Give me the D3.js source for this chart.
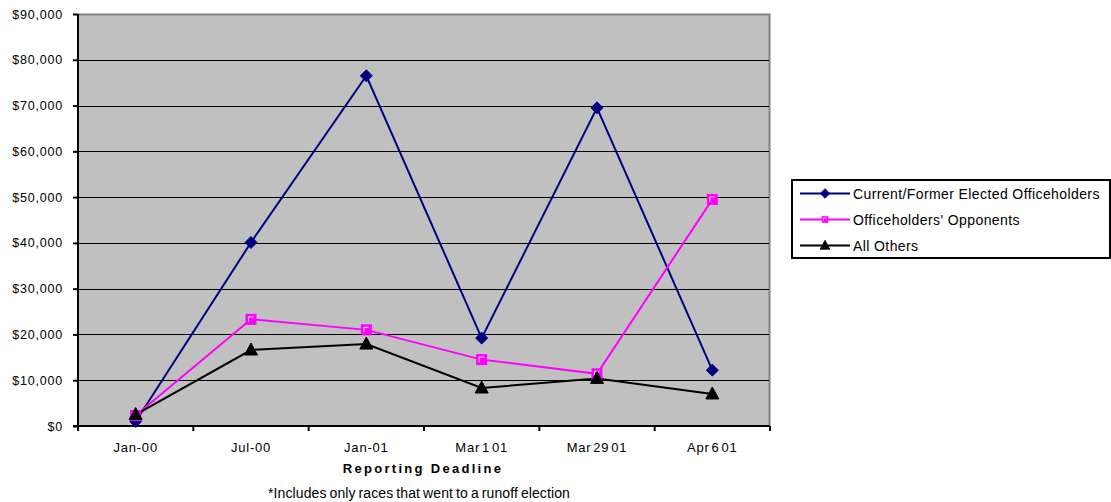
<!DOCTYPE html>
<html>
<head>
<meta charset="utf-8">
<script src="https://cdn.jsdelivr.net/npm/d3@7"></script>
<style>
  html, body { margin: 0; padding: 0; background: #fff; }
  svg text { font-family: Arial, "Liberation Sans", sans-serif; fill: #000; }
</style>
</head>
<body>
<svg id="chart" width="1111" height="502"></svg>
<script>
// Reporting deadlines (x categories)
const categories = ["Jan-00", "Jul-00", "Jan-01", "Mar 1 01", "Mar 29 01", "Apr 6 01"];

// Contributions by candidate group, in dollars
const officeholders = [1000, 40100, 76500, 19200, 69500, 12200];
const opponents     = [2300, 23300, 21000, 14500, 11400, 49500];
const allOthers     = [2500, 16600, 17900, 8300, 10400, 7000];

const seriesNames = [
  "Current/Former Elected Officeholders",
  "Officeholders' Opponents",
  "All Others"
];

const yTicks = [0, 10000, 20000, 30000, 40000, 50000, 60000, 70000, 80000, 90000];

const series = [
  { name: seriesNames[0], values: officeholders, color: "#000080", marker: "diamond" },
  { name: seriesNames[1], values: opponents,     color: "#ff00ff", marker: "square" },
  { name: seriesNames[2], values: allOthers,     color: "#000000", marker: "triangle" }
];

const svg = d3.select("#chart");
const plot = { left: 78, right: 770, top: 14, bottom: 426 };

const x = d3.scaleBand().domain(categories).range([plot.left, plot.right]);
const y = d3.scaleLinear().domain([0, 90000]).range([plot.bottom, plot.top]);

// Plot background
svg.append("rect")
  .attr("x", plot.left).attr("y", plot.top)
  .attr("width", plot.right - plot.left).attr("height", plot.bottom - plot.top)
  .attr("fill", "#c0c0c0");

// Top and right frame edges
svg.append("path")
  .attr("d", `M${plot.left},${plot.top + 0.5}H${plot.right - 0.5}V${plot.bottom}`)
  .attr("fill", "none").attr("stroke", "#808080").attr("stroke-width", 2);

// Horizontal gridlines
svg.append("g").selectAll("line")
  .data(yTicks.filter(d => d > 0 && d < 90000))
  .join("line")
  .attr("x1", plot.left).attr("x2", plot.right - 1)
  .attr("y1", d => Math.round(y(d)) + 0.5).attr("y2", d => Math.round(y(d)) + 0.5)
  .attr("stroke", "#000").attr("stroke-width", 1);

// Y axis
const yAxis = d3.axisLeft(y)
  .tickValues(yTicks)
  .tickFormat(d => "$" + d3.format(",")(d))
  .tickSize(5)
  .tickPadding(10);
const gy = svg.append("g").attr("transform", `translate(${plot.left},0)`).call(yAxis);
gy.select(".domain").attr("stroke", "#000").attr("stroke-width", 2)
  .attr("d", `M0,${plot.top}V${plot.bottom + 1}`);
gy.selectAll(".tick line").attr("stroke", "#000").attr("stroke-width", 2);
gy.selectAll(".tick text")
  .attr("font-size", 12.5).attr("letter-spacing", "0.8px")
  .style("font-family", "Arial, 'Liberation Sans', sans-serif");

// X axis: ticks at category boundaries, labels centered in bands
const gx = svg.append("g").attr("transform", `translate(0,${plot.bottom})`);
gx.append("line")
  .attr("x1", plot.left - 5).attr("x2", plot.right)
  .attr("y1", 0).attr("y2", 0)
  .attr("stroke", "#000").attr("stroke-width", 2);
const boundaries = categories.map(c => x(c)).concat([x(categories[categories.length - 1]) + x.bandwidth()]);
gx.selectAll("line.tk").data(boundaries).join("line").attr("class", "tk")
  .attr("x1", d => d).attr("x2", d => d)
  .attr("y1", 0).attr("y2", 5)
  .attr("stroke", "#000").attr("stroke-width", 2);
gx.selectAll("text.lbl").data(categories).join("text").attr("class", "lbl")
  .attr("x", d => x(d) + x.bandwidth() / 2)
  .attr("y", 25.5)
  .attr("text-anchor", "middle")
  .attr("font-size", 13)
  .attr("letter-spacing", "0.8px")
  .attr("word-spacing", "-2.5px")
  .text(d => d);

// Axis title and footnote
svg.append("text")
  .attr("x", 423).attr("y", 473)
  .attr("text-anchor", "middle")
  .attr("font-size", 13).attr("font-weight", "bold")
  .attr("letter-spacing", "2.3px")
  .text("Reporting Deadline");
svg.append("text")
  .attr("x", 419).attr("y", 497.5)
  .attr("text-anchor", "middle")
  .attr("font-size", 14)
  .attr("letter-spacing", "0.1px")
  .attr("word-spacing", "-1px")
  .text("*Includes only races that went to a runoff election");

// Marker shapes
function drawMarker(g, type, color) {
  if (type === "diamond") {
    g.append("path").attr("d", "M0,-6L6,0L0,6L-6,0Z").attr("fill", color).attr("stroke", color);
  } else if (type === "square") {
    g.append("rect").attr("x", -5).attr("y", -5).attr("width", 10).attr("height", 10)
      .attr("fill", color).attr("stroke", color);
    g.append("path").attr("d", "M-2.5,2.5V-2.5H2.5").attr("fill", "none").attr("stroke", "#fff").attr("stroke-width", 1);
  } else {
    g.append("path").attr("d", "M0,-7L6.5,5L-6.5,5Z").attr("fill", color).attr("stroke", color);
  }
}

const line = d3.line()
  .x((d, i) => x(categories[i]) + x.bandwidth() / 2)
  .y(d => y(d));

series.forEach(s => {
  svg.append("path")
    .datum(s.values)
    .attr("d", line)
    .attr("fill", "none")
    .attr("stroke", s.color)
    .attr("stroke-width", 2);
});
series.forEach(s => {
  s.values.forEach((v, i) => {
    const g = svg.append("g")
      .attr("transform", `translate(${x(categories[i]) + x.bandwidth() / 2},${y(v)})`);
    drawMarker(g, s.marker, s.color);
  });
});

// Legend
const legend = svg.append("g");
legend.append("rect")
  .attr("x", 792).attr("y", 180).attr("width", 318).attr("height", 78)
  .attr("fill", "#fff").attr("stroke", "#000").attr("stroke-width", 2);
const markerScale = { diamond: 0.8, square: 0.6, triangle: 0.75 };
series.forEach((s, i) => {
  const ly = 193.5 + i * 26;
  legend.append("line")
    .attr("x1", 800).attr("x2", 850).attr("y1", ly).attr("y2", ly)
    .attr("stroke", s.color).attr("stroke-width", 2);
  const g = legend.append("g")
    .attr("transform", `translate(825,${ly}) scale(${markerScale[s.marker]})`);
  drawMarker(g, s.marker, s.color);
  legend.append("text")
    .attr("x", 853).attr("y", ly + 5)
    .attr("font-size", 14)
    .attr("letter-spacing", "0.4px")
    .text(s.name);
});
</script>
</body>
</html>
